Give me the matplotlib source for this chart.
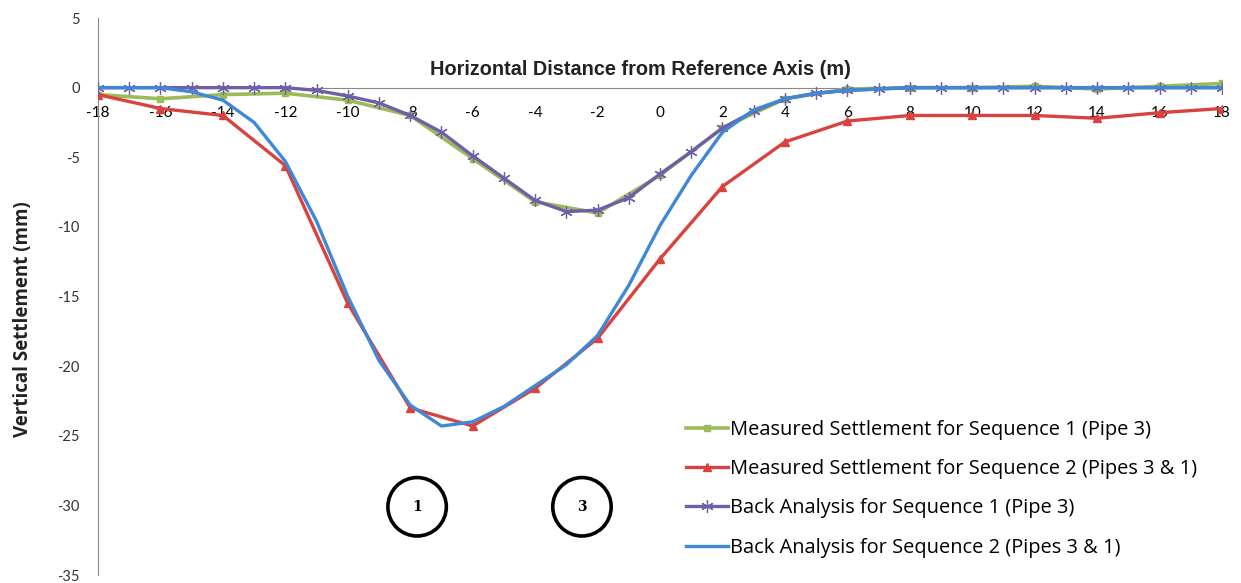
import matplotlib
matplotlib.use('Agg')
import matplotlib.pyplot as plt

plt.rcParams['axes.unicode_minus'] = False

# Measured values at even stations, back analysis at every metre
x_even = [-18, -16, -14, -12, -10, -8, -6, -4, -2, 0, 2, 4, 6, 8, 10, 12, 14, 16, 18]
x_all = list(range(-18, 19))

measured_seq1 = [-0.5, -0.8, -0.5, -0.4, -0.9, -2.0, -5.1, -8.2, -9.0, -6.3, -2.9, -0.8,
                 -0.1, 0.0, 0.0, 0.1, -0.1, 0.1, 0.3]
measured_seq2 = [-0.5, -1.5, -2.0, -5.6, -15.5, -23.0, -24.3, -21.6, -18.0, -12.3, -7.1, -3.9,
                 -2.4, -2.0, -2.0, -2.0, -2.2, -1.8, -1.5]
back_seq1 = [0.0, 0.0, 0.0, 0.0, 0.0, 0.0, 0.0, -0.2, -0.6, -1.1, -2.0, -3.2, -4.9, -6.5,
             -8.1, -8.9, -8.8, -7.9, -6.2, -4.6, -2.9, -1.7, -0.8, -0.4, -0.2, -0.1,
             0.0, 0.0, 0.0, 0.0, 0.0, 0.0, 0.0, 0.0, 0.0, 0.0, 0.0]
back_seq2 = [0.0, 0.0, 0.0, -0.3, -0.9, -2.5, -5.3, -9.6, -15.0, -19.6, -22.8, -24.3, -24.0,
             -22.9, -21.4, -19.9, -17.8, -14.2, -9.9, -6.3, -3.2, -1.6, -0.8, -0.4, -0.2,
             -0.1, 0.0, 0.0, 0.0, 0.0, 0.0, 0.0, 0.0, 0.0, 0.0, 0.0, 0.0]

labels = ['Measured Settlement for Sequence 1 (Pipe 3)',
          'Measured Settlement for Sequence 2 (Pipes 3 & 1)',
          'Back Analysis for Sequence 1 (Pipe 3)',
          'Back Analysis for Sequence 2 (Pipes 3 & 1)']

fig = plt.figure(figsize=(12.41, 5.83), dpi=100)
ax = fig.add_axes([0.079, 0.0137, 0.9057, 0.9554])

ax.plot(x_even, measured_seq1, color='#9BBB59', lw=2.6, marker='s', ms=5, label=labels[0], zorder=2)
ax.plot(x_even, measured_seq2, color='#D9423E', lw=2.4, marker='^', ms=6, label=labels[1], zorder=3)
ax.plot(x_all, back_seq1, color='#6F5FA6', lw=2.4, marker=(6, 2, 0), ms=9, mew=0.9,
        label=labels[2], zorder=4)
ax.plot(x_all, back_seq2, color='#3F88D8', lw=2.4, label=labels[3], zorder=5)

ax.set_xlim(-18, 18)
ax.set_ylim(-35, 5)
ax.set_xticks(range(-18, 19, 2))
ax.set_yticks(range(-35, 6, 5))

for s in ['top', 'right']:
    ax.spines[s].set_visible(False)
ax.spines['bottom'].set_position(('data', 0))
ax.spines['bottom'].set_color('#888888')
ax.spines['left'].set_color('#888888')
ax.spines['bottom'].set_zorder(1)
ax.tick_params(axis='x', length=0, pad=13, labelsize=11)
ax.tick_params(axis='y', length=0, pad=13, labelsize=10.5, labelcolor='#333333')
for t in ax.get_xticklabels() + ax.get_yticklabels():
    t.set_family('Lato')

ax.set_xlabel('Horizontal Distance from Reference Axis (m)', fontsize=14.3,
              fontweight='bold', family='Liberation Sans', color='#222222')
ax.xaxis.set_label_coords(0.483, 0.925)
ax.set_ylabel('Vertical Settlement (mm)', fontsize=13.5, fontweight='bold',
              family='Open Sans', color='#222222')
ax.yaxis.set_label_coords(-0.058, 0.46)

# pipe number circles
for num, xc in [('1', -7.78), ('3', -2.5)]:
    ax.text(xc, -30.1, num, ha='center', va='center', fontsize=10, fontweight='bold',
            family='DejaVu Serif',
            bbox=dict(boxstyle='circle,pad=1.6', fc='white', ec='black', lw=2.6), zorder=6)

leg = ax.legend(loc='lower left', bbox_to_anchor=(0.507, -0.001), frameon=False,
                handlelength=2.1, handletextpad=0.1, labelspacing=0.96,
                prop={'family': 'Open Sans', 'size': 14.4})

fig.savefig('out.png', dpi=100)
